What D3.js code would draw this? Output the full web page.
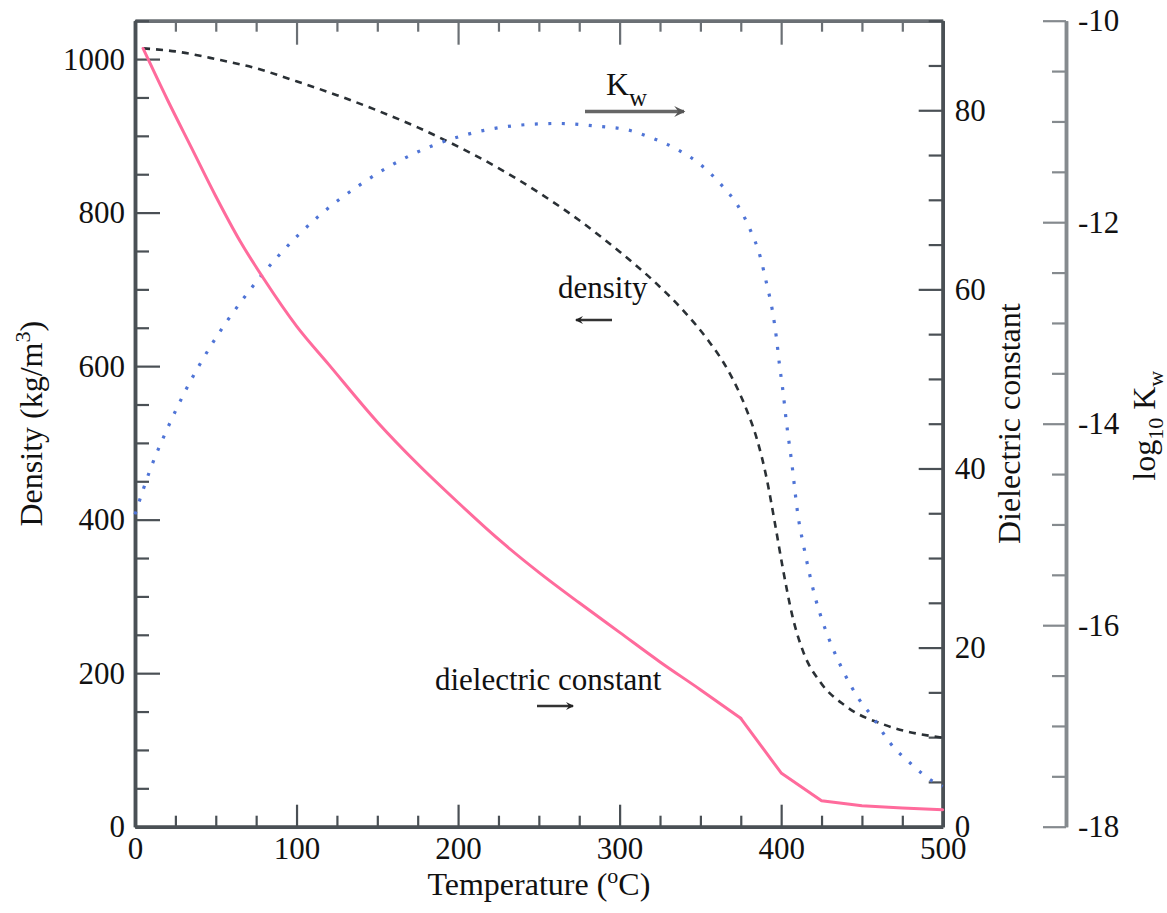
<!DOCTYPE html>
<html>
<head>
<meta charset="utf-8">
<script src="https://cdn.jsdelivr.net/npm/d3@7"></script>
<style>
  html, body { margin: 0; padding: 0; background: #fff; }
  svg { display: block; }
  text { font-family: "Liberation Serif", "Times New Roman", serif; fill: #111; }
</style>
</head>
<body>
<svg id="chart" width="1167" height="913"></svg>
<script>
// ---------------- data ----------------
const xTicks = [0, 100, 200, 300, 400, 500];
const densityTicks = [0, 200, 400, 600, 800, 1000];
const dielTicks = [0, 20, 40, 60, 80];
const kwTicks = [-18, -16, -14, -12, -10];

const densityTemp = [5, 25, 50, 75, 100, 125, 150, 175, 200, 225, 250, 275, 300, 320, 340, 355, 367, 379, 385, 391, 396, 401, 407, 414, 424, 440, 465, 500];
const densityVal  = [1014, 1010, 1000, 988, 971, 953, 933, 911, 886, 858, 826, 790, 749, 713, 671, 633, 595, 541, 505, 454, 397, 337, 274, 226, 189, 157, 132, 116];

const dielTemp = [5, 20, 35, 50, 65, 80, 100, 120, 150, 175, 200, 225, 250, 275, 300, 325, 350, 375, 400, 425, 450, 475, 500];
const dielVal  = [86.9, 81.2, 75.8, 70.4, 65.4, 61.1, 55.9, 51.6, 45.2, 40.5, 36.2, 32.1, 28.4, 25.0, 21.7, 18.4, 15.3, 12.1, 6.0, 2.9, 2.35, 2.1, 1.9];

const kwTemp = [0, 10, 20, 31, 48, 67, 89, 113, 141, 170, 203, 236, 262, 288, 304, 321, 336, 351, 363, 373, 381, 387, 391, 394.5, 397, 399, 401.3, 403, 406.5, 410.5, 414, 417, 421, 426, 432, 439.5, 448, 457, 467, 480, 494, 500];
const kwVal  = [-14.9, -14.43, -14.05, -13.68, -13.2, -12.76, -12.33, -11.95, -11.61, -11.34, -11.14, -11.04, -11.02, -11.05, -11.08, -11.17, -11.28, -11.44, -11.63, -11.83, -12.08, -12.34, -12.61, -12.87, -13.14, -13.42, -13.7, -13.95, -14.38, -14.92, -15.22, -15.45, -15.72, -15.98, -16.23, -16.49, -16.73, -16.92, -17.16, -17.37, -17.55, -17.6];

// ---------------- layout ----------------
const L = 135, R = 942.7, T = 20.7, B = 826.7, KX = 1066;
const svg = d3.select("#chart");

const x = d3.scaleLinear().domain([0, 500]).range([L, R]);
const yD = d3.scaleLinear().domain([0, 1050]).range([B, T]);
const yE = d3.scaleLinear().domain([0, 90]).range([B, T]);
const yK = d3.scaleLinear().domain([-18, -10]).range([B, T]);

const axisColor = "#4a5055";
const tickFont = "31px";

function styleAxis(g, color, width) {
  g.select(".domain").attr("stroke", color).attr("stroke-width", width);
  g.selectAll(".tick line").attr("stroke", color).attr("stroke-width", 2.2);
  g.selectAll(".tick text").style("font-size", tickFont).attr("fill", "#111")
    .style("font-family", '"Liberation Serif", "Times New Roman", serif');
}

// minor ticks
const xMinor = d3.range(0, 501, 25).filter(v => v % 100 !== 0);
const dMinor = d3.range(0, 1051, 50).filter(v => v % 200 !== 0);
const eMinor = d3.range(0, 91, 5).filter(v => v % 20 !== 0);
const kMinor = d3.range(-18, -9.9, 0.5).filter(v => Math.abs(v % 2) > 0.01);

// bottom axis
svg.append("g").attr("transform", `translate(0,${B})`)
  .call(d3.axisBottom(x).tickValues(xMinor).tickSize(-11).tickSizeOuter(0).tickFormat(""))
  .call(g => styleAxis(g, axisColor, 3.5));
svg.append("g").attr("transform", `translate(0,${B})`)
  .call(d3.axisBottom(x).tickValues(xTicks).tickSize(-22).tickSizeOuter(0).tickPadding(10).tickFormat(d3.format("d")))
  .call(g => styleAxis(g, axisColor, 3.5));

// top axis
svg.append("g").attr("transform", `translate(0,${T})`)
  .call(d3.axisTop(x).tickValues(xMinor).tickSize(-11).tickSizeOuter(0).tickFormat(""))
  .call(g => styleAxis(g, "#6b7075", 3.5));
svg.append("g").attr("transform", `translate(0,${T})`)
  .call(d3.axisTop(x).tickValues(xTicks).tickSize(-24).tickSizeOuter(0).tickFormat(""))
  .call(g => styleAxis(g, "#6b7075", 3.5));

// left axis (density)
svg.append("g").attr("transform", `translate(${L},0)`)
  .call(d3.axisLeft(yD).tickValues(dMinor).tickSize(-14).tickSizeOuter(0).tickFormat(""))
  .call(g => styleAxis(g, axisColor, 3.5));
svg.append("g").attr("transform", `translate(${L},0)`)
  .call(d3.axisLeft(yD).tickValues(densityTicks).tickSize(-25).tickSizeOuter(0).tickPadding(10).tickFormat(d3.format("d")))
  .call(g => styleAxis(g, axisColor, 3.5));

// right axis (dielectric)
svg.append("g").attr("transform", `translate(${R},0)`)
  .call(d3.axisRight(yE).tickValues(eMinor).tickSize(-14).tickSizeOuter(0).tickFormat(""))
  .call(g => styleAxis(g, axisColor, 3.5));
svg.append("g").attr("transform", `translate(${R},0)`)
  .call(d3.axisRight(yE).tickValues(dielTicks).tickSize(-24).tickSizeOuter(0).tickPadding(12).tickFormat(d3.format("d")))
  .call(g => styleAxis(g, axisColor, 3.5));

// Kw axis
svg.append("g").attr("transform", `translate(${KX},0)`)
  .call(d3.axisRight(yK).tickValues(kMinor).tickSize(-14).tickSizeOuter(0).tickFormat(""))
  .call(g => styleAxis(g, "#858a8e", 3.5));
svg.append("g").attr("transform", `translate(${KX},0)`)
  .call(d3.axisRight(yK).tickValues(kwTicks).tickSize(-23).tickSizeOuter(0).tickPadding(12).tickFormat(d => "-" + Math.abs(d)))
  .call(g => styleAxis(g, "#858a8e", 3.5));

// ---------------- curves ----------------
const densityLine = d3.line().x((d, i) => x(densityTemp[i])).y(d => yD(d)).curve(d3.curveMonotoneX);
svg.append("path").datum(densityVal).attr("d", densityLine)
  .attr("fill", "none").attr("stroke", "#2a3035").attr("stroke-width", 2.6)
  .attr("stroke-dasharray", "7,6");

const kwLine = d3.line().x((d, i) => x(kwTemp[i])).y(d => yK(d)).curve(d3.curveMonotoneX);
svg.append("path").datum(kwVal).attr("d", kwLine)
  .attr("fill", "none").attr("stroke", "#4f74d6").attr("stroke-width", 3.2)
  .attr("stroke-dasharray", "3,10.5");

// dielectric: smooth up to 375 °C, straight segments beyond (as in the source)
const dielPts = dielTemp.map((t, i) => [t, dielVal[i]]);
const kinkIdx = dielTemp.indexOf(375);
const dielSmooth = d3.line().x(d => x(d[0])).y(d => yE(d[1])).curve(d3.curveMonotoneX);
const dielStraight = d3.line().x(d => x(d[0])).y(d => yE(d[1])).curve(d3.curveLinear);
svg.append("path").datum(dielPts.slice(0, kinkIdx + 1)).attr("d", dielSmooth)
  .attr("fill", "none").attr("stroke", "#ff6b9c").attr("stroke-width", 3).attr("stroke-linecap", "round");
svg.append("path").datum(dielPts.slice(kinkIdx)).attr("d", dielStraight)
  .attr("fill", "none").attr("stroke", "#ff6b9c").attr("stroke-width", 3)
  .attr("stroke-linejoin", "round").attr("stroke-linecap", "round");

// ---------------- annotations ----------------
const defs = svg.append("defs");
function marker(id, color) {
  defs.append("marker").attr("id", id).attr("viewBox", "0 0 10 10")
    .attr("refX", 8).attr("refY", 5).attr("markerWidth", 4).attr("markerHeight", 4)
    .attr("markerUnits", "strokeWidth").attr("orient", "auto")
    .append("path").attr("d", "M1,1 L9,5 L1,9 L4,5 Z").attr("fill", color);
}
marker("arrG", "#555");
marker("arrD", "#222");

// Kw label and arrow
const kwLab = svg.append("text").attr("x", 606).attr("y", 95).style("font-size", "32px");
kwLab.append("tspan").text("K");
kwLab.append("tspan").attr("dy", 11).style("font-size", "25px").text("w");
svg.append("line").attr("x1", 585).attr("y1", 111.5).attr("x2", 684).attr("y2", 111.5)
  .attr("stroke", "#666").attr("stroke-width", 3.5).attr("marker-end", "url(#arrG)");

// density label and arrow
svg.append("text").attr("x", 558).attr("y", 298).style("font-size", "31px").text("density");
svg.append("line").attr("x1", 612).attr("y1", 320).attr("x2", 576).attr("y2", 320)
  .attr("stroke", "#333").attr("stroke-width", 2.5).attr("marker-end", "url(#arrD)");

// dielectric label and arrow
svg.append("text").attr("x", 435).attr("y", 690).style("font-size", "31px").text("dielectric constant");
svg.append("line").attr("x1", 537).attr("y1", 706).attr("x2", 573).attr("y2", 706)
  .attr("stroke", "#333").attr("stroke-width", 2.5).attr("marker-end", "url(#arrD)");

// ---------------- axis titles ----------------
const xt = svg.append("text").attr("x", (L + R) / 2).attr("y", 895).attr("text-anchor", "middle").style("font-size", "32px");
xt.append("tspan").text("Temperature (");
xt.append("tspan").attr("dy", -12).style("font-size", "22px").text("o");
xt.append("tspan").attr("dy", 12).text("C)");

const yt = svg.append("text").attr("transform", `translate(42,${(T + B) / 2}) rotate(-90)`)
  .attr("text-anchor", "middle").style("font-size", "32px");
yt.append("tspan").text("Density (kg/m");
yt.append("tspan").attr("dy", -12).style("font-size", "22px").text("3");
yt.append("tspan").attr("dy", 12).text(")");

svg.append("text").attr("transform", `translate(1020,${(T + B) / 2}) rotate(-90)`)
  .attr("text-anchor", "middle").style("font-size", "32px").text("Dielectric constant");

const kt = svg.append("text").attr("transform", `translate(1155,${(T + B) / 2 + 2}) rotate(-90)`)
  .attr("text-anchor", "middle").style("font-size", "32px");
kt.append("tspan").text("log");
kt.append("tspan").attr("dy", 8).style("font-size", "22px").text("10");
kt.append("tspan").attr("dy", -8).text(" K");
kt.append("tspan").attr("dy", 8).style("font-size", "22px").text("w");
</script>
</body>
</html>
